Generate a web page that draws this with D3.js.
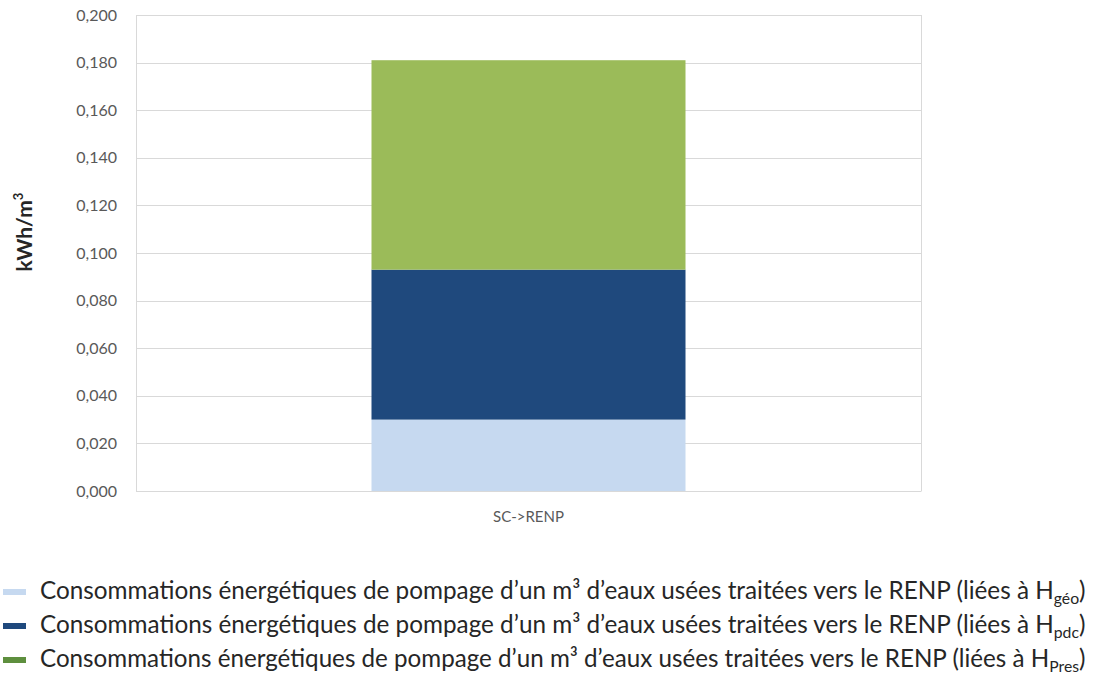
<!DOCTYPE html>
<html>
<head>
<meta charset="utf-8">
<script src="https://cdn.jsdelivr.net/npm/d3@7"></script>
<style>
  html, body { margin: 0; padding: 0; background: #fff; }
  svg { display: block; }
  text { font-family: Lato, "Open Sans", "Liberation Sans", sans-serif; }
</style>
</head>
<body>
<svg id="chart" width="1095" height="678"></svg>
<script>
// Data
const categories = ["SC->RENP"];
const seriesKeys = ["geo", "pdc", "pres"];
const seriesSubscripts = ["géo", "pdc", "Pres"];
const valuesGeo = [0.030];
const valuesPdc = [0.063];
const valuesPres = [0.088];
const yTicks = [0, 0.02, 0.04, 0.06, 0.08, 0.1, 0.12, 0.14, 0.16, 0.18, 0.2];
const legendBase = "Consommations énergétiques de pompage d\u2019un m\u00b3 d\u2019eaux usées traitées vers le RENP (liées à H";

const barColors = ["#c6d9f0", "#1f497d", "#9bbb59"];
const swatchColors = ["#c6d9f0", "#1f497d", "#5e8f3e"];

const rows = categories.map((c, i) => ({
  category: c, geo: valuesGeo[i], pdc: valuesPdc[i], pres: valuesPres[i]
}));

const svg = d3.select("#chart");
const margin = { left: 136, right: 174, top: 15, bottom: 187 };
const W = 1095, H = 678;
const x0 = margin.left, x1 = W - margin.right;
const yTop = margin.top, yBot = H - margin.bottom;

const x = d3.scaleBand().domain(categories).range([x0, x1]).paddingInner(0.6).paddingOuter(0.3);
const y = d3.scaleLinear().domain([0, 0.2]).range([yBot, yTop]);

const fmt = v => d3.format(".3f")(v).replace(".", ",");

// Gridlines
svg.append("g")
  .selectAll("line")
  .data(yTicks)
  .join("line")
  .attr("x1", x0).attr("x2", x1)
  .attr("y1", d => Math.round(y(d)) + 0.5).attr("y2", d => Math.round(y(d)) + 0.5)
  .attr("stroke", "#d9d9d9").attr("stroke-width", 1);

// Plot area frame sides
svg.append("line").attr("x1", x0 + 0.5).attr("x2", x0 + 0.5)
  .attr("y1", y(0.2)).attr("y2", y(0) + 0.5)
  .attr("stroke", "#d9d9d9");
svg.append("line").attr("x1", x1 + 0.5).attr("x2", x1 + 0.5)
  .attr("y1", y(0.2)).attr("y2", y(0) + 0.5)
  .attr("stroke", "#d9d9d9");

// Y axis labels
const yAxis = d3.axisLeft(y).tickValues(yTicks).tickFormat(fmt).tickSize(0).tickPadding(19);
const gy = svg.append("g").attr("transform", `translate(${x0},0)`).call(yAxis);
gy.select(".domain").remove();
gy.selectAll("text").attr("font-size", 16).attr("fill", "#595959")
  .style("font-family", "Lato, sans-serif");

// Stacked bars
const stack = d3.stack().keys(seriesKeys);
const stacked = stack(rows);
svg.append("g").selectAll("g")
  .data(stacked)
  .join("g")
  .attr("fill", (d, i) => barColors[i])
  .selectAll("rect")
  .data(d => d.map(s => ({ s, cat: s.data.category })))
  .join("rect")
  .attr("x", d => x(d.cat))
  .attr("width", x.bandwidth())
  .attr("y", d => y(d.s[1]))
  .attr("height", d => y(d.s[0]) - y(d.s[1]));

// X axis labels
const xAxis = d3.axisBottom(x).tickSize(0).tickPadding(20);
const gx = svg.append("g").attr("transform", `translate(0,${yBot})`).call(xAxis);
gx.select(".domain").remove();
gx.selectAll("text").attr("font-size", 15).attr("fill", "#595959")
  .style("font-family", "Lato, sans-serif");

// Y axis title
const yt = svg.append("text")
  .attr("transform", `translate(32,232) rotate(-90)`)
  .attr("text-anchor", "middle")
  .attr("font-size", 21).attr("font-weight", "bold").attr("fill", "#262626");
yt.append("tspan").text("kWh/m");
yt.append("tspan").attr("font-size", 13).attr("dy", -9).text("3");

// Legend
const legendY = [592, 626, 660];
const legendRight = 1086;
const leg = svg.append("g");
seriesKeys.forEach((k, i) => {
  leg.append("rect")
    .attr("x", 3).attr("y", legendY[i] - 3)
    .attr("width", 23).attr("height", 6)
    .attr("fill", swatchColors[i]);
  const t = leg.append("text")
    .attr("x", 40).attr("y", legendY[i] + 7)
    .attr("font-size", 20).attr("fill", "#262626");
  t.append("tspan").attr("class", "main").text(legendBase);
  t.append("tspan").attr("class", "sub").attr("font-size", 13).attr("dy", 5).text(seriesSubscripts[i]);
  t.append("tspan").attr("class", "main").attr("dy", -5).text(")");
  // fit the line to the available width
  const w = t.node().getComputedTextLength();
  const s = (legendRight - 40) / w;
  t.attr("font-size", 20 * s);
  t.select(".sub").attr("font-size", 13 * s);
});
</script>
</body>
</html>
